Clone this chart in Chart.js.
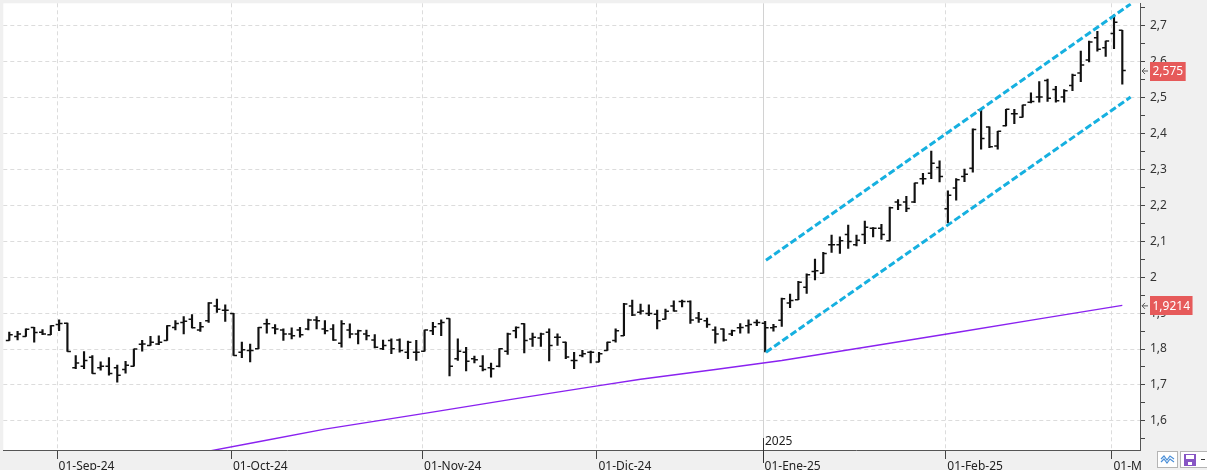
<!DOCTYPE html>
<html>
<head>
<meta charset="utf-8">
<script src="https://cdn.jsdelivr.net/npm/chart.js@4.4.1/dist/chart.umd.min.js"></script>
<style>
html, body { margin: 0; padding: 0; background: #f0f0f0; }
#wrap { width: 1207px; height: 470px; position: relative; }
</style>
</head>
<body>
<div id="wrap"><canvas id="priceChart"></canvas></div>
<script>
// barras diarias (sesión 0 = 23-ago-24 ... sesión 134 = última)
const opens = [
  1.824, 1.835, 1.835, 1.860, 1.847, 1.840, 1.868, 1.872, 1.748, 1.752,
  1.777, 1.748, 1.752, 1.748, 1.743, 1.752, 1.813, 1.810, 1.814, 1.824,
  1.860, 1.874, 1.883, 1.853, 1.879, 1.920, 1.908, 1.899, 1.791, 1.796,
  1.801, 1.870, 1.859, 1.853, 1.842, 1.853, 1.856, 1.881, 1.856, 1.856,
  1.816, 1.853, 1.842, 1.842, 1.825, 1.801, 1.824, 1.825, 1.791, 1.791,
  1.794, 1.851, 1.870, 1.885, 1.773, 1.791, 1.773, 1.752, 1.748, 1.752,
  1.794, 1.851, 1.870, 1.828, 1.831, 1.847, 1.833, 1.819, 1.768, 1.782,
  1.791, 1.764, 1.796, 1.824, 1.837, 1.920, 1.902, 1.899, 1.897, 1.883,
  1.920, 1.932, 1.932, 1.886, 1.879, 1.853, 1.856, 1.842, 1.859, 1.865,
  1.874, 1.872, 1.859, 1.880, 1.928, 1.937, 1.972, 2.016, 2.011, 2.090,
  2.090, 2.119, 2.090, 2.119, 2.136, 2.136, 2.101, 2.209, 2.209, 2.209,
  2.274, 2.289, 2.305, 2.190, 2.248, 2.280, 2.303, 2.466, 2.418, 2.365,
  2.421, 2.455, 2.445, 2.487, 2.501, 2.547, 2.522, 2.501, 2.533, 2.568,
  2.604, 2.666, 2.638, 2.678, 2.687
];
const highs = [
  1.847, 1.849, 1.856, 1.860, 1.854, 1.865, 1.881, 1.872, 1.782, 1.793,
  1.782, 1.764, 1.776, 1.755, 1.766, 1.800, 1.824, 1.835, 1.837, 1.865,
  1.879, 1.890, 1.896, 1.874, 1.929, 1.939, 1.923, 1.899, 1.819, 1.814,
  1.860, 1.883, 1.868, 1.856, 1.859, 1.860, 1.883, 1.890, 1.879, 1.868,
  1.879, 1.870, 1.853, 1.853, 1.840, 1.825, 1.828, 1.828, 1.822, 1.824,
  1.853, 1.874, 1.881, 1.885, 1.828, 1.805, 1.780, 1.782, 1.761, 1.801,
  1.844, 1.862, 1.871, 1.844, 1.844, 1.856, 1.842, 1.819, 1.791, 1.796,
  1.794, 1.791, 1.819, 1.856, 1.927, 1.936, 1.925, 1.923, 1.908, 1.911,
  1.934, 1.936, 1.934, 1.902, 1.886, 1.862, 1.856, 1.853, 1.871, 1.881,
  1.881, 1.877, 1.869, 1.942, 1.953, 1.988, 2.009, 2.050, 2.069, 2.117,
  2.112, 2.145, 2.117, 2.156, 2.138, 2.147, 2.195, 2.216, 2.225, 2.262,
  2.289, 2.351, 2.324, 2.240, 2.274, 2.301, 2.413, 2.467, 2.418, 2.406,
  2.467, 2.467, 2.479, 2.513, 2.544, 2.551, 2.531, 2.522, 2.565, 2.629,
  2.657, 2.684, 2.657, 2.730, 2.687
];
const lows = [
  1.824, 1.825, 1.835, 1.819, 1.840, 1.840, 1.851, 1.793, 1.745, 1.745,
  1.732, 1.741, 1.727, 1.708, 1.733, 1.752, 1.794, 1.810, 1.812, 1.824,
  1.853, 1.842, 1.859, 1.849, 1.874, 1.902, 1.877, 1.782, 1.776, 1.764,
  1.801, 1.844, 1.842, 1.824, 1.828, 1.833, 1.853, 1.856, 1.842, 1.824,
  1.805, 1.831, 1.814, 1.825, 1.803, 1.798, 1.787, 1.791, 1.773, 1.768,
  1.794, 1.840, 1.837, 1.725, 1.768, 1.739, 1.761, 1.739, 1.722, 1.750,
  1.785, 1.831, 1.789, 1.807, 1.807, 1.767, 1.810, 1.773, 1.745, 1.778,
  1.761, 1.764, 1.796, 1.819, 1.837, 1.893, 1.897, 1.893, 1.856, 1.883,
  1.905, 1.917, 1.871, 1.874, 1.860, 1.816, 1.822, 1.837, 1.844, 1.844,
  1.865, 1.792, 1.850, 1.863, 1.915, 1.937, 1.955, 1.992, 2.011, 2.069,
  2.066, 2.080, 2.087, 2.093, 2.112, 2.105, 2.101, 2.188, 2.182, 2.207,
  2.259, 2.274, 2.265, 2.151, 2.214, 2.266, 2.292, 2.356, 2.360, 2.356,
  2.421, 2.427, 2.445, 2.485, 2.487, 2.489, 2.487, 2.487, 2.519, 2.544,
  2.599, 2.629, 2.614, 2.636, 2.537
];
const closes = [
  1.840, 1.842, 1.855, 1.846, 1.842, 1.865, 1.871, 1.793, 1.761, 1.768,
  1.732, 1.752, 1.732, 1.727, 1.755, 1.800, 1.814, 1.819, 1.819, 1.865,
  1.871, 1.877, 1.859, 1.862, 1.928, 1.911, 1.908, 1.782, 1.798, 1.796,
  1.860, 1.870, 1.856, 1.842, 1.837, 1.840, 1.881, 1.879, 1.851, 1.825,
  1.870, 1.842, 1.851, 1.837, 1.805, 1.810, 1.801, 1.796, 1.819, 1.791,
  1.853, 1.862, 1.874, 1.752, 1.794, 1.766, 1.770, 1.743, 1.745, 1.801,
  1.842, 1.860, 1.824, 1.833, 1.842, 1.810, 1.833, 1.778, 1.768, 1.787,
  1.791, 1.787, 1.819, 1.851, 1.925, 1.895, 1.906, 1.899, 1.879, 1.905,
  1.906, 1.932, 1.881, 1.883, 1.868, 1.842, 1.825, 1.851, 1.860, 1.868,
  1.874, 1.859, 1.862, 1.940, 1.935, 1.986, 2.007, 2.018, 2.066, 2.090,
  2.101, 2.099, 2.103, 2.139, 2.136, 2.119, 2.193, 2.201, 2.191, 2.262,
  2.274, 2.317, 2.280, 2.228, 2.271, 2.286, 2.411, 2.386, 2.363, 2.406,
  2.467, 2.455, 2.479, 2.489, 2.501, 2.498, 2.491, 2.519, 2.562, 2.590,
  2.654, 2.634, 2.657, 2.709, 2.575
];

// media móvil: sesión -> valor
const maIdx = [22, 30, 38, 50, 61, 71, 76, 85, 93, 103, 114, 124, 134];
const maVals = [1.507, 1.542, 1.577, 1.621, 1.662, 1.698, 1.716, 1.743, 1.768, 1.805, 1.846, 1.884, 1.9214];

// canal alcista (dos rectas paralelas)
const channelIdx = [91.1, 135];
const channelTop = [2.047, 2.760];
const channelBottom = [1.791, 2.501];

// eje X: primera sesión de cada mes
const monthIdx = [6, 27, 50, 71, 91, 113, 133];
const monthLabels = ['01-Sep-24', '01-Oct-24', '01-Nov-24', '01-Dic-24', '01-Ene-25', '01-Feb-25', '01-Mar-25'];
const yearIdx = 91;
const yearLabel = '2025';

// eje Y
const yTicks = [1.55, 1.6, 1.65, 1.7, 1.75, 1.8, 1.85, 1.9, 1.95, 2, 2.05, 2.1, 2.15, 2.2,
                2.25, 2.3, 2.35, 2.4, 2.45, 2.5, 2.55, 2.6, 2.65, 2.7, 2.75];
const yMin = 1.519;
const yMax = 2.762;

const FONT = "'Noto Sans', sans-serif";
const tickShift = 0.25;   // la marca del mes cae un poco antes de la barra
const ohlcTick = 0.2;     // desplazamiento de las marcas de apertura/cierre

const fmt = v => String(v).replace('.', ',');
const isMajor = v => Math.abs(v * 10 - Math.round(v * 10)) < 1e-6;

Chart.defaults.font.family = FONT;
Chart.defaults.font.size = 12;
Chart.defaults.color = '#222';

function drawTag(ctx, yPix, text, left) {
  ctx.font = '12px ' + FONT;
  const w = ctx.measureText(text).width + 5;
  ctx.fillStyle = '#e65a5a';
  ctx.fillRect(left, Math.round(yPix - 9), w, 19);
  ctx.fillStyle = '#ffffff';
  ctx.textBaseline = 'middle';
  ctx.textAlign = 'left';
  ctx.fillText(text, left + 2.5, yPix + 1);
  // flecha
  ctx.strokeStyle = '#555';
  ctx.lineWidth = 1;
  ctx.beginPath();
  ctx.moveTo(left - 2, yPix + 0.5); ctx.lineTo(left - 8, yPix + 0.5);
  ctx.moveTo(left - 8, yPix + 0.5); ctx.lineTo(left - 5, yPix - 2.5);
  ctx.moveTo(left - 8, yPix + 0.5); ctx.lineTo(left - 5, yPix + 3.5);
  ctx.stroke();
}

const panelPlugin = {
  id: 'panel',
  beforeDraw(chart) {
    const { ctx, chartArea: a } = chart;
    ctx.save();
    ctx.fillStyle = '#f0f0f0';
    ctx.fillRect(0, 0, chart.width, chart.height);
    ctx.fillStyle = '#ffffff';
    ctx.fillRect(a.left, a.top, a.right - a.left, a.bottom - a.top);
    ctx.restore();
  },
  beforeDatasetsDraw(chart) {
    // separador de año
    const { ctx, chartArea: a } = chart;
    const x = Math.round(chart.scales.x.getPixelForValue(yearIdx - tickShift)) + 0.5;
    ctx.save();
    ctx.strokeStyle = '#d2d2d2';
    ctx.lineWidth = 1;
    ctx.beginPath();
    ctx.moveTo(x, a.top);
    ctx.lineTo(x, a.bottom);
    ctx.stroke();
    ctx.restore();
  },
  afterDraw(chart) {
    const { ctx, chartArea: a, scales: { x, y } } = chart;
    ctx.save();
    // esquina: tapa la etiqueta del último mes
    ctx.fillStyle = '#f0f0f0';
    ctx.fillRect(a.right + 1, a.bottom + 1, chart.width - a.right, chart.height - a.bottom);

    // marca del año
    const yx = Math.round(x.getPixelForValue(yearIdx - tickShift)) + 0.5;
    ctx.strokeStyle = '#333';
    ctx.lineWidth = 1;
    ctx.beginPath();
    ctx.moveTo(yx, a.bottom - 12);
    ctx.lineTo(yx, a.bottom + 13);
    ctx.stroke();
    ctx.fillStyle = '#222';
    ctx.font = '12px ' + FONT;
    ctx.textAlign = 'left';
    ctx.textBaseline = 'alphabetic';
    ctx.fillText(yearLabel, yx + 1.5, a.bottom - 5.5);

    // etiquetas de último valor
    const left = a.right + 10;
    drawTag(ctx, y.getPixelForValue(closes[closes.length - 1]), fmt(closes[closes.length - 1]), left);
    drawTag(ctx, y.getPixelForValue(maVals[maVals.length - 1]), fmt(maVals[maVals.length - 1]), left);

    // iconos de la esquina
    ctx.fillStyle = '#ffffff';
    ctx.strokeStyle = '#b4b4b4';
    ctx.fillRect(1157.5, 451.5, 20, 16);
    ctx.strokeRect(1157.5, 451.5, 20, 16);
    ctx.strokeStyle = '#4a8fd8';
    ctx.lineWidth = 1.2;
    ctx.beginPath();
    ctx.moveTo(1161, 459); ctx.lineTo(1164, 456); ctx.lineTo(1167, 460); ctx.lineTo(1170, 456); ctx.lineTo(1174, 459);
    ctx.moveTo(1161, 462); ctx.lineTo(1164, 459); ctx.lineTo(1167, 463); ctx.lineTo(1170, 459); ctx.lineTo(1174, 462);
    ctx.stroke();
    ctx.fillStyle = '#ffffff';
    ctx.strokeStyle = '#b4b4b4';
    ctx.lineWidth = 1;
    ctx.fillRect(1180.5, 451.5, 30, 16);
    ctx.strokeRect(1180.5, 451.5, 30, 16);
    ctx.fillStyle = '#8755c4';
    ctx.fillRect(1184, 454, 12, 12);
    ctx.fillStyle = '#ffffff';
    ctx.fillRect(1186, 455, 8, 4);
    ctx.fillRect(1188, 462, 4, 3);
    ctx.fillStyle = '#333';
    ctx.fillRect(1201, 459, 4, 1);
    ctx.restore();
  }
};

const lineTick = {
  type: 'line',
  showLine: false,
  pointStyle: 'line',
  pointRadius: 1.8,
  pointHoverRadius: 1.8,
  pointBorderWidth: 1.5,
  borderColor: '#111',
  pointBorderColor: '#111'
};

const ctx = document.getElementById('priceChart').getContext('2d');
new Chart(ctx, {
  type: 'bar',
  data: {
    datasets: [
      {
        label: 'Máx-Mín',
        data: highs.map((h, i) => ({ x: i, y: [lows[i], h] })),
        backgroundColor: '#111',
        barThickness: 1.5,
        order: 3
      },
      Object.assign({}, lineTick, {
        label: 'Apertura',
        data: opens.map((v, i) => ({ x: i - ohlcTick, y: v })),
        order: 2
      }),
      Object.assign({}, lineTick, {
        label: 'Cierre',
        data: closes.map((v, i) => ({ x: i + ohlcTick, y: v })),
        order: 2
      }),
      {
        type: 'line',
        label: 'Media',
        data: maIdx.map((d, i) => ({ x: d, y: maVals[i] })),
        borderColor: '#8a22f0',
        borderWidth: 1.4,
        pointRadius: 0,
        tension: 0,
        order: 1
      },
      {
        type: 'line',
        label: 'Canal sup',
        data: channelIdx.map((d, i) => ({ x: d, y: channelTop[i] })),
        borderColor: '#16b0e0',
        borderWidth: 3,
        borderDash: [7, 3],
        pointRadius: 0,
        order: 0
      },
      {
        type: 'line',
        label: 'Canal inf',
        data: channelIdx.map((d, i) => ({ x: d, y: channelBottom[i] })),
        borderColor: '#16b0e0',
        borderWidth: 3,
        borderDash: [7, 3],
        pointRadius: 0,
        order: 0
      }
    ]
  },
  options: {
    responsive: true,
    maintainAspectRatio: false,
    animation: false,
    layout: { padding: 0 },
    plugins: {
      legend: { display: false },
      tooltip: { enabled: false }
    },
    scales: {
      x: {
        type: 'linear',
        min: -0.72,
        max: 136.13,
        offset: false,
        afterFit(scale) {
          scale.height = 20;
          scale.paddingLeft = 0;
          scale.paddingRight = 0;
        },
        afterBuildTicks(scale) {
          scale.ticks = monthIdx.map(i => ({ value: i - tickShift }));
        },
        ticks: {
          autoSkip: false,
          maxRotation: 0,
          align: 'start',
          labelOffset: 1.5,
          padding: 0,
          color: '#222',
          callback: (v, i) => monthLabels[i]
        },
        grid: {
          offset: false,
          color: c => (c.index === monthIdx.indexOf(yearIdx) ? 'rgba(0,0,0,0)' : '#dcdcdc'),
          tickColor: '#444',
          tickLength: 9
        },
        border: { display: true, color: '#555', width: 1, dash: [4, 3] }
      },
      y: {
        type: 'linear',
        position: 'right',
        min: yMin,
        max: yMax,
        afterFit(scale) {
          scale.width = 67;
          scale.paddingTop = 0;
          scale.paddingBottom = 0;
        },
        afterBuildTicks(scale) {
          scale.ticks = yTicks.map(v => ({ value: v }));
        },
        ticks: {
          padding: 5,
          color: '#333',
          callback: v => (isMajor(v) ? fmt(v) : '')
        },
        grid: {
          color: c => (c.tick && isMajor(c.tick.value) ? '#dcdcdc' : 'rgba(0,0,0,0)'),
          tickColor: '#444',
          tickLength: 5
        },
        border: { display: true, color: '#555', width: 1, dash: [4, 3] }
      }
    }
  },
  plugins: [panelPlugin]
});
</script>
</body>
</html>
